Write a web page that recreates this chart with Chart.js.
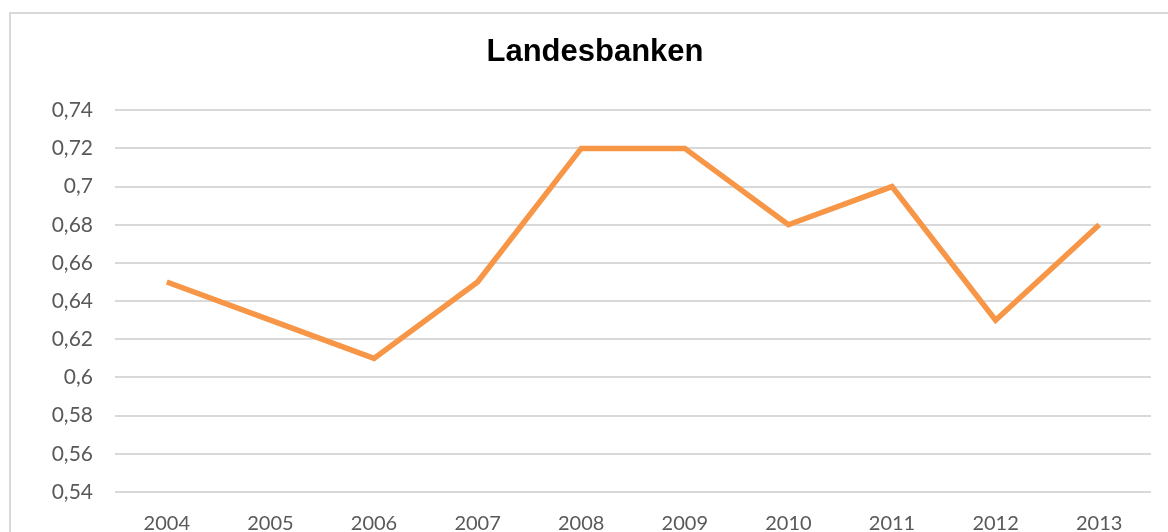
<!DOCTYPE html>
<html>
<head>
<meta charset="utf-8">
<script src="https://cdn.jsdelivr.net/npm/chart.js@4"></script>
<style>
    html, body { margin: 0; padding: 0; background: #fff; overflow: hidden; }
    #frame {
        position: absolute; left: 9px; top: 12px;
        width: 1168px; height: 540px;
        border: 2px solid #d9d9d9;
    }
</style>
</head>
<body>
<div id="frame"><canvas id="lineChart" width="1168" height="540"></canvas></div>
<script>
// ======= Daten =======
const years = ['2004', '2005', '2006', '2007', '2008', '2009', '2010', '2011', '2012', '2013'];
const landesbanken = [0.65, 0.63, 0.61, 0.65, 0.72, 0.72, 0.68, 0.70, 0.63, 0.68];
const yMin = 0.54;
const yMax = 0.74;
const yStep = 0.02;

const textColor = '#595959';

new Chart(document.getElementById('lineChart').getContext('2d'), {
    type: 'line',
    data: {
        labels: years,
        datasets: [{
            label: 'Landesbanken',
            data: landesbanken,
            borderColor: '#f79646',
            borderWidth: 5.5,
            pointRadius: 0,
            tension: 0,
            fill: false
        }]
    },
    options: {
        responsive: false,
        animation: false,
        layout: { padding: { left: 28, right: 28, top: 0, bottom: 0 } },
        plugins: {
            legend: { display: false },
            tooltip: { enabled: false },
            title: {
                display: true,
                text: 'Landesbanken',
                color: '#000',
                font: { family: 'Liberation Sans, Arial', size: 31, weight: 'bold', lineHeight: 1.2 },
                padding: { top: 20, bottom: 39 }
            }
        },
        scales: {
            x: {
                offset: true,
                grid: { display: false },
                border: { display: false },
                ticks: {
                    color: textColor,
                    font: { family: 'Lato', size: 20 },
                    padding: 12,
                    maxRotation: 0
                },
                afterFit: s => { s.height = 62; }
            },
            y: {
                min: yMin,
                max: yMax,
                border: { display: false },
                grid: { color: '#d9d9d9', lineWidth: 2, drawTicks: false },
                ticks: {
                    stepSize: yStep,
                    color: textColor,
                    font: { family: 'Lato', size: 21 },
                    padding: 22,
                    callback: v => String(Number(v.toFixed(2))).replace('.', ',')
                },
                afterFit: s => { s.width = 76; }
            }
        }
    }
});
</script>
</body>
</html>
